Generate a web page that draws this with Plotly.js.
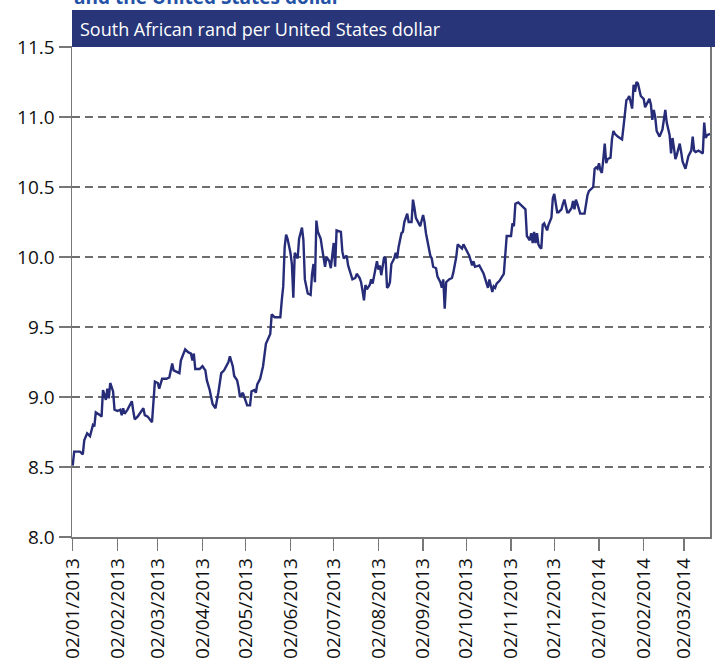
<!DOCTYPE html>
<html>
<head>
<meta charset="utf-8">
<script src="https://cdn.plot.ly/plotly-3.0.1.min.js"></script>
<style>
html,body{margin:0;padding:0;background:#fff;}
#chart{width:715px;height:665px;}
</style>
</head>
<body>
<div id="chart"></div>
<script>
const dates = [
'2013-01-02','2013-01-03','2013-01-07','2013-01-09','2013-01-10','2013-01-12','2013-01-14','2013-01-16','2013-01-17','2013-01-18','2013-01-21','2013-01-22','2013-01-23','2013-01-25','2013-01-26','2013-01-27','2013-01-28','2013-01-30','2013-01-31',
'2013-02-02','2013-02-04','2013-02-05','2013-02-06','2013-02-07','2013-02-09','2013-02-12','2013-02-13','2013-02-14','2013-02-16','2013-02-19','2013-02-20','2013-02-21','2013-02-23','2013-02-26','2013-02-28',
'2013-03-02','2013-03-03','2013-03-05','2013-03-08','2013-03-10','2013-03-12','2013-03-13','2013-03-15','2013-03-17','2013-03-18','2013-03-21','2013-03-23','2013-03-25','2013-03-26','2013-03-27','2013-03-28','2013-03-31',
'2013-04-02','2013-04-04','2013-04-05','2013-04-07','2013-04-09','2013-04-11','2013-04-13','2013-04-15','2013-04-17','2013-04-20','2013-04-21','2013-04-23','2013-04-24','2013-04-26','2013-04-27','2013-04-28','2013-04-30',
'2013-05-01','2013-05-03','2013-05-05','2013-05-06','2013-05-08','2013-05-09','2013-05-10','2013-05-12','2013-05-14','2013-05-15','2013-05-16','2013-05-19','2013-05-20','2013-05-22','2013-05-26','2013-05-27','2013-05-28','2013-05-29','2013-05-30','2013-05-31',
'2013-06-02','2013-06-03','2013-06-04','2013-06-05','2013-06-06','2013-06-07','2013-06-08','2013-06-10','2013-06-11','2013-06-12','2013-06-14','2013-06-16','2013-06-17','2013-06-18','2013-06-19','2013-06-20','2013-06-21','2013-06-23','2013-06-24','2013-06-25','2013-06-26','2013-06-27','2013-06-29','2013-06-30',
'2013-07-02','2013-07-03','2013-07-04','2013-07-07','2013-07-08','2013-07-09','2013-07-11','2013-07-12','2013-07-14','2013-07-15','2013-07-17','2013-07-18','2013-07-20','2013-07-21','2013-07-22','2013-07-23','2013-07-24','2013-07-25','2013-07-27','2013-07-28','2013-07-29','2013-07-31',
'2013-08-01','2013-08-02','2013-08-03','2013-08-04','2013-08-05','2013-08-06','2013-08-07','2013-08-08','2013-08-09','2013-08-10','2013-08-11','2013-08-13','2013-08-14','2013-08-15','2013-08-16','2013-08-18','2013-08-19','2013-08-20','2013-08-22','2013-08-23','2013-08-25','2013-08-26','2013-08-27','2013-08-28','2013-08-30','2013-08-31',
'2013-09-02','2013-09-03','2013-09-04','2013-09-06','2013-09-07','2013-09-08','2013-09-09','2013-09-11','2013-09-12','2013-09-14','2013-09-15','2013-09-16','2013-09-17','2013-09-18','2013-09-20','2013-09-22','2013-09-23','2013-09-25','2013-09-26','2013-09-28','2013-09-29','2013-09-30',
'2013-10-02','2013-10-03','2013-10-04','2013-10-06','2013-10-07','2013-10-08','2013-10-10','2013-10-11','2013-10-14','2013-10-16','2013-10-17','2013-10-18','2013-10-20','2013-10-21','2013-10-22','2013-10-23','2013-10-25','2013-10-28','2013-10-29','2013-10-30',
'2013-11-02','2013-11-03','2013-11-04','2013-11-05','2013-11-07','2013-11-09','2013-11-12','2013-11-13','2013-11-15','2013-11-16','2013-11-17','2013-11-18','2013-11-19','2013-11-20','2013-11-21','2013-11-22','2013-11-23','2013-11-24','2013-11-25','2013-11-27','2013-11-28','2013-11-30',
'2013-12-01','2013-12-02','2013-12-04','2013-12-05','2013-12-07','2013-12-08','2013-12-09','2013-12-11','2013-12-12','2013-12-14','2013-12-15','2013-12-16','2013-12-17','2013-12-18','2013-12-19','2013-12-20','2013-12-23','2013-12-25','2013-12-26','2013-12-27','2013-12-29','2013-12-30','2013-12-31',
'2014-01-01','2014-01-02','2014-01-03','2014-01-04','2014-01-05','2014-01-06','2014-01-07','2014-01-08','2014-01-10','2014-01-11','2014-01-12','2014-01-13','2014-01-15','2014-01-17','2014-01-18','2014-01-19','2014-01-21','2014-01-22','2014-01-23','2014-01-25','2014-01-26','2014-01-27','2014-01-28','2014-01-29','2014-01-30','2014-01-31',
'2014-02-02','2014-02-03','2014-02-04','2014-02-06','2014-02-07','2014-02-08','2014-02-09','2014-02-10','2014-02-11','2014-02-13','2014-02-15','2014-02-16','2014-02-17','2014-02-18','2014-02-19','2014-02-20','2014-02-21','2014-02-22','2014-02-23','2014-02-24','2014-02-25','2014-02-26','2014-02-27','2014-02-28',
'2014-03-01','2014-03-03','2014-03-04','2014-03-05','2014-03-07','2014-03-08','2014-03-09','2014-03-10','2014-03-12','2014-03-14','2014-03-15','2014-03-16','2014-03-17','2014-03-18','2014-03-20'
];

// Rand per US dollar
const zarPerUsd = [
8.51,8.61,8.61,8.59,8.69,8.74,8.72,8.80,8.79,8.89,8.87,8.86,9.05,8.98,9.06,8.99,9.10,9.04,8.91,
8.90,8.91,8.87,8.92,8.88,8.91,8.97,8.90,8.84,8.86,8.90,8.92,8.87,8.86,8.82,9.11,
9.10,9.06,9.13,9.13,9.14,9.24,9.19,9.18,9.17,9.26,9.34,9.32,9.31,9.26,9.31,9.20,9.20,
9.22,9.19,9.12,9.05,8.95,8.92,9.03,9.17,9.19,9.25,9.29,9.22,9.15,9.12,9.07,9.00,9.03,
9.00,8.94,8.94,9.04,9.05,9.03,9.09,9.13,9.22,9.29,9.38,9.45,9.59,9.57,9.57,9.69,9.79,10.07,10.16,10.13,
10.03,9.95,9.71,10.03,10.01,9.99,10.13,10.21,10.12,9.84,9.74,9.73,9.88,9.95,9.82,10.26,10.18,10.13,10.06,9.98,9.93,10.00,9.97,9.92,
10.10,9.93,10.19,10.18,10.04,9.99,10.01,9.94,9.88,9.84,9.85,9.88,9.85,9.82,9.76,9.69,9.80,9.77,9.80,9.84,9.81,9.93,
9.97,9.91,9.94,9.87,9.94,10.00,9.99,9.78,9.79,9.82,9.95,9.99,10.03,9.99,10.07,10.17,10.18,10.25,10.31,10.25,10.25,10.41,10.35,10.28,10.24,10.22,
10.30,10.25,10.17,10.07,10.01,9.99,9.93,9.92,9.86,9.82,9.78,9.84,9.63,9.82,9.84,9.85,9.89,10.00,10.09,10.07,10.06,10.09,
10.05,10.03,10.01,9.94,9.97,9.93,9.94,9.94,9.88,9.80,9.78,9.84,9.75,9.79,9.78,9.81,9.83,9.88,10.03,10.15,
10.15,10.24,10.22,10.38,10.39,10.37,10.34,10.15,10.12,10.17,10.10,10.18,10.10,10.17,10.09,10.07,10.06,10.23,10.24,10.19,10.23,10.28,
10.42,10.45,10.32,10.32,10.34,10.38,10.41,10.32,10.32,10.35,10.40,10.34,10.41,10.38,10.34,10.31,10.31,10.44,10.47,10.48,10.50,10.63,10.64,
10.63,10.67,10.62,10.60,10.70,10.81,10.67,10.70,10.71,10.84,10.90,10.88,10.86,10.85,10.84,10.93,11.12,11.13,11.15,11.06,11.23,11.18,11.25,11.24,11.20,11.15,
11.13,11.07,11.09,11.13,11.09,10.98,11.05,11.00,10.90,10.86,10.91,10.97,11.05,10.96,10.91,10.87,10.74,10.85,10.78,10.70,10.73,10.78,10.81,10.75,
10.68,10.63,10.69,10.72,10.76,10.86,10.76,10.75,10.76,10.75,10.74,10.96,10.85,10.87,10.88
];

const tickDates = ['2013-01-02','2013-02-02','2013-03-02','2013-04-02','2013-05-02','2013-06-02','2013-07-02','2013-08-02','2013-09-02','2013-10-02','2013-11-02','2013-12-02','2014-01-02','2014-02-02','2014-03-02'];
const tickLabels = ['02/01/2013','02/02/2013','02/03/2013','02/04/2013','02/05/2013','02/06/2013','02/07/2013','02/08/2013','02/09/2013','02/10/2013','02/11/2013','02/12/2013','02/01/2014','02/02/2014','02/03/2014'];
const yTicks = [8.0, 8.5, 9.0, 9.5, 10.0, 10.5, 11.0, 11.5];

const bannerText = 'South African rand per United States dollar';
const topTitle = 'and the United States dollar';

const trace = {
  x: dates, y: zarPerUsd, type: 'scatter', mode: 'lines',
  line: {color: '#262c78', width: 2.4}, hoverinfo: 'x+y'
};

const layout = {
  width: 715, height: 665,
  margin: {l: 72, r: 5, t: 47, b: 128},
  paper_bgcolor: '#ffffff', plot_bgcolor: '#ffffff',
  showlegend: false,
  font: {family: 'Open Sans, sans-serif', color: '#111111', size: 19},
  xaxis: {
    type: 'date', range: ['2013-01-01 12:00', '2014-03-20'],
    tickmode: 'array', tickvals: tickDates, ticktext: tickLabels,
    tickangle: -90, ticks: 'outside', ticklen: 12, tickwidth: 1.2, tickcolor: '#777777',
    showline: true, linecolor: '#777777', linewidth: 1.5, mirror: true,
    showgrid: false, zeroline: false,
    tickfont: {family: 'Open Sans, sans-serif', size: 19, color: '#111111'}
  },
  yaxis: {
    range: [8, 11.5], tickmode: 'array', tickvals: yTicks,
    ticktext: yTicks.map(v => v.toFixed(1)),
    ticks: 'outside', ticklen: 12, tickwidth: 1.2, tickcolor: '#777777',
    showline: true, linecolor: '#777777', linewidth: 1.5, mirror: true,
    showgrid: true, gridcolor: '#6e6e6e', gridwidth: 1.2, griddash: '8px,5px',
    zeroline: false,
    tickfont: {family: 'Open Sans, sans-serif', size: 19, color: '#111111'}
  },
  shapes: [{
    type: 'rect', xref: 'paper', yref: 'paper',
    x0: 0, x1: 643/638, y0: 1, y1: 1 + 37/490,
    fillcolor: '#283679', line: {width: 0}, layer: 'above'
  }],
  annotations: [
    {text: bannerText, xref: 'paper', yref: 'paper', x: 6/638, y: 1 + 18/490,
     xanchor: 'left', yanchor: 'middle', showarrow: false,
     font: {family: 'Open Sans, sans-serif', size: 18, color: '#ffffff'}},
    {text: '<b>' + topTitle + '</b>', xref: 'paper', yref: 'paper', x: 0, y: 1 + 35/490,
     xanchor: 'left', yanchor: 'bottom', showarrow: false,
     font: {family: 'Open Sans, sans-serif', size: 19, color: '#2452a6'}}
  ]
};

Plotly.newPlot('chart', [trace], layout, {displayModeBar: false, staticPlot: true});
</script>
</body>
</html>
